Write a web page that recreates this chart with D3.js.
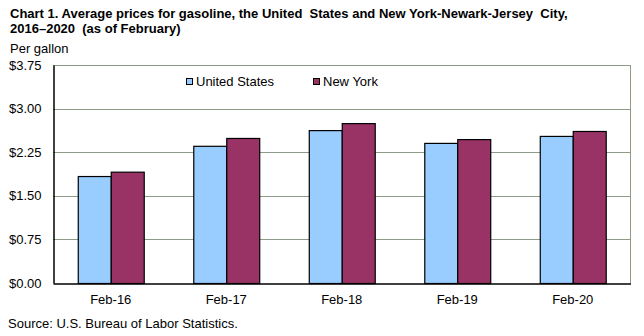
<!DOCTYPE html>
<html>
<head>
<meta charset="utf-8">
<script src="https://cdn.jsdelivr.net/npm/d3@7"></script>
<style>
  html, body { margin: 0; padding: 0; background: #fff; }
  svg { display: block; font-family: Arial, "Liberation Sans", sans-serif; }
  text { white-space: pre; }
</style>
</head>
<body>
<svg id="chart" width="644" height="336"></svg>
<script>
// Average gasoline prices per gallon, February of each year
const categories = ["Feb-16", "Feb-17", "Feb-18", "Feb-19", "Feb-20"];
const seriesNames = ["United States", "New York"];
const unitedStates = [1.84, 2.36, 2.63, 2.41, 2.53];
const newYork = [1.915, 2.495, 2.75, 2.475, 2.615];
const yTicks = [0, 0.75, 1.5, 2.25, 3.0, 3.75];

const colors = ["#99ccff", "#993366"];
const seriesValues = [unitedStates, newYork];

const svg = d3.select("#chart");
const plot = { left: 53, right: 630.5, top: 65, bottom: 283 };

const x = d3.scaleBand()
  .domain(categories)
  .range([plot.left, plot.right])
  .paddingInner(0.429)
  .paddingOuter(0.2145);

const x1 = d3.scaleBand()
  .domain(seriesNames)
  .range([0, x.bandwidth()]);

const y = d3.scaleLinear()
  .domain([0, 3.75])
  .range([plot.bottom, plot.top]);

// Title
const title = svg.append("g").attr("font-weight", "bold").attr("font-size", 13).attr("fill", "#000");
title.append("text").attr("x", 10).attr("y", 18)
  .text("Chart 1. Average prices for gasoline, the United  States and New York-Newark-Jersey  City,");
title.append("text").attr("x", 10).attr("y", 33)
  .text("2016\u20132020  (as of February)");

svg.append("text").attr("x", 10).attr("y", 53).attr("font-size", 13).text("Per gallon");

// Gridlines
const gridColor = "#8c9c86";
svg.append("g")
  .selectAll("line")
  .data(yTicks.filter(d => d > 0))
  .join("line")
  .attr("x1", plot.left).attr("x2", plot.right)
  .attr("y1", d => Math.round(y(d)) + 0.5).attr("y2", d => Math.round(y(d)) + 0.5)
  .attr("stroke", gridColor).attr("stroke-width", 1);

// Right frame edge
svg.append("line")
  .attr("x1", plot.right).attr("x2", plot.right)
  .attr("y1", plot.top).attr("y2", plot.bottom)
  .attr("stroke", gridColor);

// Bars
const groups = svg.append("g")
  .selectAll("g")
  .data(categories)
  .join("g")
  .attr("transform", d => `translate(${x(d)},0)`);

groups.selectAll("rect")
  .data((c, i) => seriesNames.map((s, j) => ({ s, v: seriesValues[j][i], j })))
  .join("rect")
  .attr("x", d => x1(d.s) + 0.5)
  .attr("y", d => y(d.v) + 0.5)
  .attr("width", x1.bandwidth())
  .attr("height", d => plot.bottom - y(d.v))
  .attr("fill", d => colors[d.j])
  .attr("stroke", "#000")
  .attr("stroke-width", 1.2);

// Y axis
const yAxis = svg.append("g")
  .attr("transform", `translate(${plot.left + 0.5},0)`)
  .call(d3.axisLeft(y).tickValues(yTicks).tickFormat(d => "$" + d.toFixed(2)).tickSize(0).tickPadding(12));
yAxis.select(".domain").attr("stroke", "#000").attr("stroke-width", 1.5);
yAxis.selectAll("text").attr("font-size", 13).attr("font-family", "Arial, 'Liberation Sans', sans-serif").attr("fill", "#000");

// X axis
const xAxis = svg.append("g")
  .attr("transform", `translate(0,${plot.bottom + 0.5})`)
  .call(d3.axisBottom(x).tickSize(0).tickPadding(11));
xAxis.select(".domain").attr("stroke", "#000").attr("stroke-width", 1.5);
xAxis.selectAll("text").attr("font-size", 13).attr("font-family", "Arial, 'Liberation Sans', sans-serif").attr("fill", "#000");

// Legend
const legendX = [186, 313];
const legend = svg.append("g")
  .selectAll("g")
  .data(seriesNames)
  .join("g")
  .attr("transform", (d, i) => `translate(${legendX[i]},78)`);
legend.append("rect")
  .attr("x", 0.5).attr("y", 0.5).attr("width", 6).attr("height", 6)
  .attr("fill", (d, i) => colors[i]).attr("stroke", "#000");
legend.append("text")
  .attr("x", 10).attr("y", 7.5)
  .attr("font-size", 13).attr("fill", "#000")
  .text(d => d);

// Source note
svg.append("text").attr("x", 8).attr("y", 328).attr("font-size", 13)
  .text("Source: U.S. Bureau of Labor Statistics.");
</script>
</body>
</html>
